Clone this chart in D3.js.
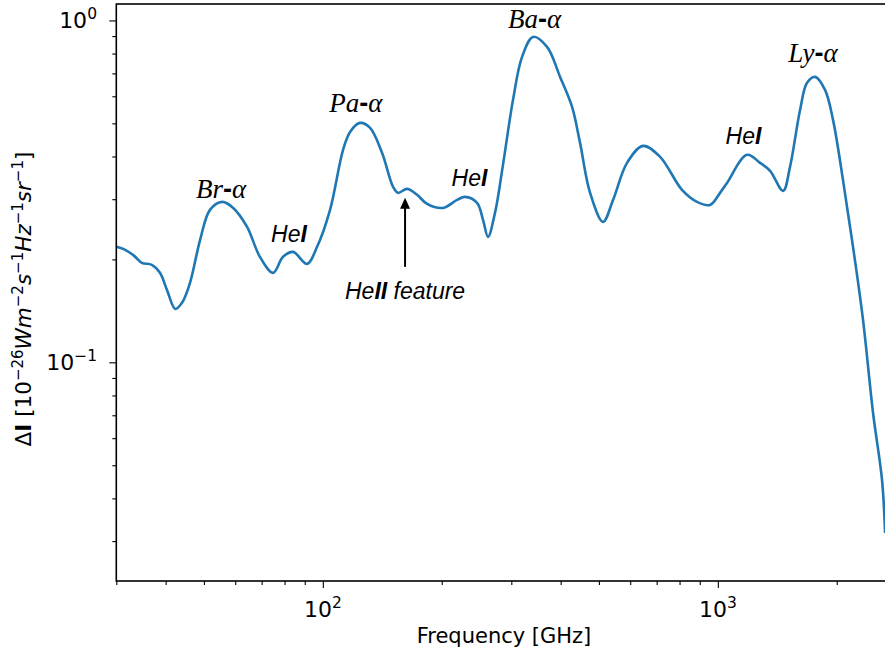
<!DOCTYPE html>
<html>
<head>
<meta charset="utf-8">
<script src="https://cdn.jsdelivr.net/npm/d3@7"></script>
<style>
  body { margin: 0; background: #fff; }
  svg { display: block; }
</style>
</head>
<body>
<svg id="chart" width="885" height="651"></svg>
<script>
// Spectrum: frequency in GHz, intensity in 1e-26 W m^-2 s^-1 Hz^-1 sr^-1
const freq = [30, 31.6, 33.3, 34.8, 36.9, 38.7, 40.3, 42.3, 44.0, 46.1, 48.9, 51.8, 55.6, 59.3,
  64.3, 69.3, 74.8, 79.3, 84.1, 91.2, 96.7, 104.3, 112.5, 117.2, 124.2, 131.7, 141.2, 150.6,
  155.0, 163.4, 173.2, 183.6, 201.5, 218.7, 229.1, 245.7, 254.4, 261.9, 272.8, 285.8, 303.0,
  319.4, 340.6, 369.5, 398.7, 427.5, 447.9, 474.9, 512.2, 542.9, 589.0, 646.6, 714.2, 811.6,
  885.8, 955.7, 1013, 1055, 1185, 1279, 1356, 1463, 1523, 1615, 1682, 1763, 1868, 1957, 2074,
  2199, 2331, 2471, 2604, 2651];
const deltaI = [0.2177, 0.2133, 0.2048, 0.1954, 0.1928, 0.1827, 0.1629, 0.1433, 0.1493, 0.1708,
  0.2282, 0.2792, 0.2946, 0.2829, 0.2489, 0.2035, 0.1827, 0.2035, 0.2104, 0.1941, 0.2177,
  0.2792, 0.4182, 0.4720, 0.5015, 0.4850, 0.4099, 0.3260, 0.3131, 0.3216, 0.3090, 0.2906,
  0.2829, 0.2986, 0.3047, 0.2926, 0.2610, 0.2328, 0.2736, 0.3781, 0.5856, 0.7821, 0.8949,
  0.8366, 0.6837, 0.5587, 0.4384, 0.3131, 0.2575, 0.2986, 0.3832, 0.4296, 0.3991, 0.3194,
  0.2946, 0.2887, 0.3131, 0.3348, 0.4045, 0.3832, 0.3631, 0.3173, 0.3730, 0.5473, 0.6568,
  0.6837, 0.6262, 0.5118, 0.3417, 0.2177, 0.1331, 0.0712, 0.0453, 0.0317];

const xMajor = [100, 1000];
const xMinor = [30, 40, 50, 60, 70, 80, 90, 200, 300, 400, 500, 600, 700, 800, 900, 2000];
const yMajor = [0.1, 1];
const yMinor = [0.03, 0.04, 0.05, 0.06, 0.07, 0.08, 0.09, 0.2, 0.3, 0.4, 0.5, 0.6, 0.7, 0.8, 0.9];
const xExp = ["2", "3"];
const yExp = ["\u22121", "0"];

// line labels: [frequency, intensity, name]
const serifLabels = [[55.3, 0.3027, "Br"], [121.3, 0.540, "Pa"], [343.6, 0.951, "Ba"], [1741, 0.756, "Ly"]];
const heLabels = [[82.1, 0.2251], [235.1, 0.328], [1161.5, 0.4355]];
const arrowFreq = 161.5;
const arrowFrom = 0.1902, arrowTo = 0.3027;
const featureLabel = [161.5, 0.1533];

const svg = d3.select("#chart");
const plotLeft = 116.3, plotTop = 4, plotBottom = 581, plotWidth = 790;

const x = d3.scaleLog().domain([30, 3000]).range([plotLeft, plotLeft + plotWidth]);
const y = d3.scaleLog().domain([0.02293, 1.117]).range([plotBottom, plotTop]);

svg.append("defs").append("clipPath").attr("id", "clip")
  .append("rect").attr("x", plotLeft).attr("y", plotTop)
  .attr("width", plotWidth).attr("height", plotBottom - plotTop);

// curve
const data = freq.map((f, i) => [f, deltaI[i]]);
svg.append("path")
  .datum(data)
  .attr("clip-path", "url(#clip)")
  .attr("fill", "none")
  .attr("stroke", "#1f77b4")
  .attr("stroke-width", 2.6)
  .attr("stroke-linejoin", "round")
  .attr("d", d3.line().x(d => x(d[0])).y(d => y(d[1])).curve(d3.curveCatmullRom.alpha(0.5)));

// frame
svg.append("rect")
  .attr("x", plotLeft).attr("y", plotTop).attr("width", plotWidth).attr("height", plotBottom - plotTop)
  .attr("fill", "none").attr("stroke", "#000").attr("stroke-width", 1.6);

function styleAxis(g) {
  g.select(".domain").remove();
  g.selectAll(".tick line").attr("stroke", "#000").attr("stroke-width", 1.1);
}
svg.append("g").attr("transform", `translate(0,${plotBottom})`)
  .call(d3.axisBottom(x).tickValues(xMajor).tickSize(7).tickFormat("")).call(styleAxis);
svg.append("g").attr("transform", `translate(0,${plotBottom})`)
  .call(d3.axisBottom(x).tickValues(xMinor).tickSize(4).tickFormat("")).call(styleAxis);
svg.append("g").attr("transform", `translate(${plotLeft},0)`)
  .call(d3.axisLeft(y).tickValues(yMajor).tickSize(7).tickFormat("")).call(styleAxis);
svg.append("g").attr("transform", `translate(${plotLeft},0)`)
  .call(d3.axisLeft(y).tickValues(yMinor).tickSize(4).tickFormat("")).call(styleAxis);

const sans = "'DejaVu Sans', sans-serif";

// tick labels 10^n
xMajor.forEach((v, i) => {
  const t = svg.append("text").attr("x", x(v)).attr("y", 617)
    .attr("text-anchor", "middle").attr("font-family", sans).attr("font-size", 22);
  t.append("tspan").text("10");
  t.append("tspan").attr("dy", -9).attr("font-size", 15.5).text(xExp[i]);
});
yMajor.forEach((v, i) => {
  const t = svg.append("text").attr("x", 97).attr("y", y(v) + 8)
    .attr("text-anchor", "end").attr("font-family", sans).attr("font-size", 22);
  t.append("tspan").text("10");
  t.append("tspan").attr("dy", -9).attr("font-size", 15.5).text(yExp[i]);
});

// axis titles
svg.append("text").attr("x", 504).attr("y", 643)
  .attr("text-anchor", "middle").attr("font-family", sans).attr("font-size", 21)
  .text("Frequency [GHz]");

const yl = svg.append("text")
  .attr("transform", "translate(31,299) rotate(-90)")
  .attr("text-anchor", "middle").attr("font-family", sans).attr("font-size", 21.5);
const sup = 15, up = 8.5;
yl.append("tspan").text("\u0394");
yl.append("tspan").attr("font-weight", "bold").text("I");
yl.append("tspan").text(" [10");
yl.append("tspan").attr("dy", -up).attr("font-size", sup).text("\u221226");
yl.append("tspan").attr("dy", up).attr("font-style", "italic").text("Wm");
yl.append("tspan").attr("dy", -up).attr("font-size", sup).text("\u22122");
yl.append("tspan").attr("dy", up).attr("font-style", "italic").text("s");
yl.append("tspan").attr("dy", -up).attr("font-size", sup).text("\u22121");
yl.append("tspan").attr("dy", up).attr("font-style", "italic").text("Hz");
yl.append("tspan").attr("dy", -up).attr("font-size", sup).text("\u22121");
yl.append("tspan").attr("dy", up).attr("font-style", "italic").text("sr");
yl.append("tspan").attr("dy", -up).attr("font-size", sup).text("\u22121");
yl.append("tspan").attr("dy", up).text("]");

// series line labels (serif italic)
serifLabels.forEach(([f, v, name]) => {
  const t = svg.append("text").attr("x", x(f)).attr("y", y(v))
    .attr("text-anchor", "middle").attr("font-family", "'Liberation Serif', serif")
    .attr("font-size", 27).attr("font-style", "italic");
  t.append("tspan").text(name);
  t.append("tspan").attr("font-style", "normal").attr("font-weight", "bold")
    .attr("font-family", "'Liberation Sans', sans-serif").text("-");
  t.append("tspan").text("\u03b1");
});

// He I labels
const heFont = "'Liberation Sans', Arial, sans-serif";
heLabels.forEach(([f, v]) => {
  const t = svg.append("text").attr("x", x(f)).attr("y", y(v))
    .attr("text-anchor", "middle").attr("font-family", heFont)
    .attr("font-size", 23).attr("font-style", "italic");
  t.append("tspan").text("He");
  t.append("tspan").attr("font-weight", "bold").text("I");
});

// He II arrow and label
const ax = x(arrowFreq);
svg.append("line")
  .attr("x1", ax).attr("x2", ax).attr("y1", y(arrowFrom)).attr("y2", y(arrowTo) + 9)
  .attr("stroke", "#000").attr("stroke-width", 2);
svg.append("path")
  .attr("d", `M${ax},${y(arrowTo)} L${ax - 5},${y(arrowTo) + 11} L${ax + 5},${y(arrowTo) + 11} Z`)
  .attr("fill", "#000");
const hf = svg.append("text").attr("x", ax).attr("y", y(featureLabel[1]))
  .attr("text-anchor", "middle").attr("font-family", heFont)
  .attr("font-size", 23).attr("font-style", "italic");
hf.append("tspan").text("He");
hf.append("tspan").attr("font-weight", "bold").text("II");
hf.append("tspan").text(" feature");
</script>
</body>
</html>
